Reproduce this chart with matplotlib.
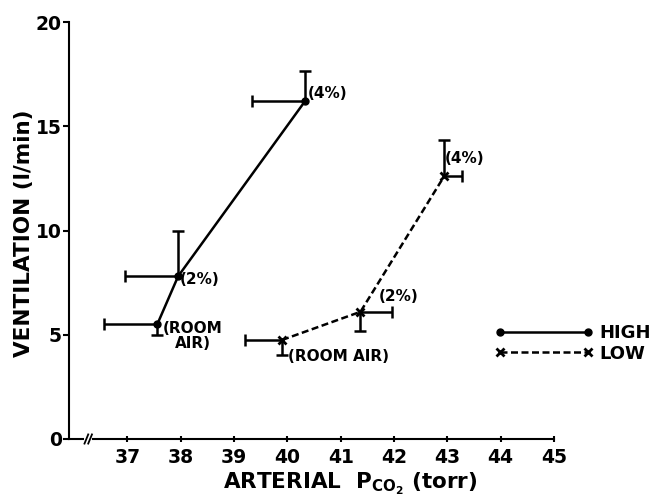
import matplotlib
matplotlib.use("Agg")
import matplotlib.pyplot as plt
import numpy as np

plt.rcParams['font.family'] = ['DejaVu Sans']
plt.rcParams['font.weight'] = 'bold'
plt.rcParams['mathtext.fontset'] = 'custom'
plt.rcParams['mathtext.rm'] = 'DejaVu Sans:bold'
plt.rcParams['mathtext.it'] = 'DejaVu Sans:bold'
plt.rcParams['mathtext.bf'] = 'DejaVu Sans:bold'

# ---- data ----
high_pco2 = [37.56, 37.95, 40.33]
high_vent = [5.5, 7.8, 16.2]
high_xerr_lo = [1.0, 1.0, 1.0]
high_xerr_hi = [0.0, 0.0, 0.0]
high_yerr_lo = [0.5, 0.0, 0.0]
high_yerr_hi = [0.0, 2.2, 1.45]
high_labels = ["(ROOM\nAIR)", "(2%)", "(4%)"]

low_pco2 = [39.90, 41.37, 42.94]
low_vent = [4.75, 6.1, 12.6]
low_xerr_lo = [0.7, 0.0, 0.0]
low_xerr_hi = [0.0, 0.6, 0.33]
low_yerr_lo = [0.7, 0.9, 0.0]
low_yerr_hi = [0.0, 0.0, 1.75]
low_labels = ["(ROOM AIR)", "(2%)", "(4%)"]

x_ticks = [37, 38, 39, 40, 41, 42, 43, 44, 45]
y_ticks = [0, 5, 10, 15, 20]

fig = plt.figure(figsize=(6.54, 5.0), dpi=100)
ax = fig.add_axes([69.3/654, 1-439/500, (554-69.3)/654, (439-22)/500])
ax.set_xlim(35.91, 45)
ax.set_ylim(0, 20)

lw = 1.8
cap = 8.5

def draw_err(x, y, lo, hi, axis):
    x = np.asarray(x, float); y = np.asarray(y, float)
    lo = np.asarray(lo, float); hi = np.asarray(hi, float)
    m = (lo > 0) | (hi > 0)
    if not m.any():
        return
    err = np.vstack([lo[m], hi[m]])
    kw = dict(fmt='none', ecolor='black', elinewidth=lw, capsize=0, zorder=3)
    if axis == 'x':
        ax.errorbar(x[m], y[m], xerr=err, **kw)
        for sgn, e in ((-1, lo), (1, hi)):
            k = e > 0
            ax.plot(x[k] + sgn * e[k], y[k], ls='none', marker='|', ms=cap,
                    mew=lw, color='black', zorder=3)
    else:
        ax.errorbar(x[m], y[m], yerr=err, **kw)
        for sgn, e in ((-1, lo), (1, hi)):
            k = e > 0
            ax.plot(x[k], y[k] + sgn * e[k], ls='none', marker='_', ms=cap,
                    mew=lw, color='black', zorder=3)

draw_err(high_pco2, high_vent, high_xerr_lo, high_xerr_hi, 'x')
draw_err(high_pco2, high_vent, high_yerr_lo, high_yerr_hi, 'y')
draw_err(low_pco2, low_vent, low_xerr_lo, low_xerr_hi, 'x')
draw_err(low_pco2, low_vent, low_yerr_lo, low_yerr_hi, 'y')

l_high, = ax.plot(high_pco2, high_vent, color='black', lw=lw, marker='o', ms=5,
                  label='HIGH', zorder=4)
l_low, = ax.plot(low_pco2, low_vent, color='black', lw=lw, ls=(0, (2.8, 1.4)),
                 marker='x', ms=6, mew=2, label='LOW', zorder=4)

# point labels
fs_ann = 11
ax.text(38.23, 4.92, high_labels[0], ha='center', va='center', fontsize=fs_ann,
        multialignment='center', linespacing=1.0)
ax.text(37.99, 7.63, high_labels[1], ha='left', va='center', fontsize=fs_ann)
ax.text(40.39, 16.55, high_labels[2], ha='left', va='center', fontsize=fs_ann)
ax.text(40.02, 3.96, low_labels[0], ha='left', va='center', fontsize=fs_ann)
ax.text(41.72, 6.83, low_labels[1], ha='left', va='center', fontsize=fs_ann)
ax.text(42.96, 13.43, low_labels[2], ha='left', va='center', fontsize=fs_ann)

# axes styling
for s in ['top', 'right']:
    ax.spines[s].set_visible(False)
ax.spines['left'].set_linewidth(1.5)
ax.spines['bottom'].set_linewidth(1.5)
ax.spines['bottom'].set_bounds(36.36, 45)

# axis break decoration
ax.plot([35.91, 36.17], [0, 0], color='black', lw=1.5, clip_on=False, zorder=5)
for xb in [36.23, 36.30]:
    ax.plot([xb - 0.035, xb + 0.035], [-0.22, 0.22], color='black', lw=1.3,
            clip_on=False, zorder=5)

ax.set_xticks(x_ticks)
ax.set_xticklabels([str(v) for v in x_ticks])
ax.set_yticks(y_ticks)
ax.set_yticklabels([str(v) for v in y_ticks])
ax.tick_params(axis='x', direction='inout', length=5, width=1.5, pad=4, labelsize=13.5)
ax.tick_params(axis='y', direction='out', length=4, width=1.5, pad=1.5, labelsize=13.5)

fig.text(24.5/654, 1-233.5/500, 'VENTILATION (l/min)', rotation=90, ha='center',
         va='center', fontsize=15.5, fontweight='bold')
fig.text(350/654, 1-484/500, r'ARTERIAL  P$_{\mathrm{CO_2}}$ (torr)', ha='center',
         va='center', fontsize=15.5, fontweight='bold')

ax.legend(handles=[l_high, l_low], loc='upper left',
          bbox_to_anchor=(494.6/654, 1-324/500), bbox_transform=fig.transFigure,
          frameon=False, numpoints=2, handlelength=5.5, handletextpad=0.31,
          labelspacing=0.15, borderpad=0, borderaxespad=0, fontsize=13)

fig.savefig('out.png', dpi=100)
